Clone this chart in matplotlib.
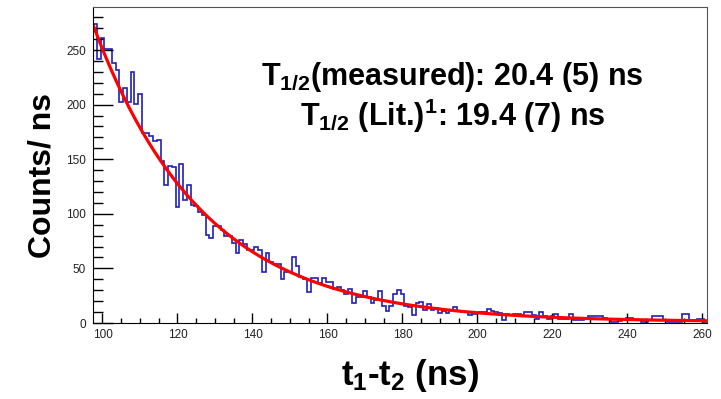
import numpy as np
import matplotlib.pyplot as plt

plt.rcParams['font.family'] = ['Liberation Sans', 'DejaVu Sans']
plt.rcParams['mathtext.fontset'] = 'custom'
plt.rcParams['mathtext.rm'] = 'Liberation Sans:bold'
plt.rcParams['mathtext.it'] = 'Liberation Sans:bold'
plt.rcParams['mathtext.bf'] = 'Liberation Sans:bold'

# histogram: 1 ns bins, first bin starts at 97.5 ns
bin_start = 97.5
bin_width = 1.0
counts = [274, 242, 261, 251, 251, 238, 232, 202, 215, 202, 230, 201, 210, 174, 174, 171, 167, 168, 148,
          126, 144, 143, 106, 146, 113, 126, 108, 107, 102, 99, 81, 78, 89, 89, 85, 80, 80, 73, 64,
          76, 72, 67, 67, 70,
          67, 47, 64, 56, 54, 54, 40, 47, 47, 60, 52, 42, 40, 28, 41, 41, 37, 41, 38, 38, 31, 33,
          30, 27, 31, 18, 24, 24, 29, 24, 18, 21, 29, 16, 11, 16, 27, 30, 27, 16, 15, 7, 18, 19, 12, 17,
          12, 14, 9, 11, 9,
          12, 15, 11, 10, 10, 7, 8, 9, 10, 10, 13, 11, 10, 9, 3, 8, 7, 8, 8, 7, 10, 10, 7, 4, 10, 6, 4,
          6, 8, 4, 4, 4, 8, 3, 3,
          3, 4, 6, 6, 6, 6, 5, 4, 1, 1, 2, 4, 5, 5, 3, 3, 1, 1, 3, 6, 6, 6, 3, 1, 1, 1, 1, 8, 8, 2, 3, 4, 4, 0]

# exponential fit shown in red
fit_amp = 272.0       # counts at t0
fit_t0 = 97.5
fit_halflife = 20.4   # ns
fit_bkg = 1.0

xticks = [100, 120, 140, 160, 180, 200, 220, 240, 260]
yticks = [0, 50, 100, 150, 200, 250]

edges = bin_start + bin_width * np.arange(len(counts) + 1)
t = np.linspace(fit_t0, 261, 300)
fit = fit_amp * np.exp(-np.log(2) * (t - fit_t0) / fit_halflife) + fit_bkg

fig = plt.figure(figsize=(7.21, 3.99), dpi=100)
ax = fig.add_axes([93/721, 76/399, 614/721, 316/399])

ax.stairs(counts, edges, color='#2020b8', lw=1.2, baseline=0)
ax.plot(t, fit, color='red', lw=2.3)

ax.set_xlim(97.47, 261.2)
ax.set_ylim(0, 289.4)
ax.set_xticks(xticks)
ax.set_yticks(yticks)
ax.set_xticks(np.arange(100, 261, 5), minor=True)
ax.set_yticks(np.arange(0, 290, 10), minor=True)
ax.tick_params(axis='y', which='major', direction='in', length=14.4, width=1, pad=5)
ax.tick_params(axis='y', which='minor', direction='in', length=7.2, width=1)
ax.tick_params(axis='x', which='major', direction='in', length=7.2, width=1, pad=4)
ax.tick_params(axis='x', which='minor', direction='in', length=3.6, width=1)
ax.tick_params(labelsize=8.5, labelcolor='#222222')
for s in ['right', 'top']:
    ax.spines[s].set_color('#555555')

fig.text(43/721, 1 - 176/399, 'Counts/ ns', rotation=90, ha='center', va='center',
         fontsize=23, fontweight='bold')
fig.text(410/721, 1 - 385/399, 't$_1$-t$_2$ (ns)', ha='center', va='baseline',
         fontsize=25, fontweight='bold')

fig.text(452/721, 1 - 85/399, 'T$_{1/2}$(measured): 20.4 (5) ns', ha='center', va='baseline',
         fontsize=22, fontweight='bold')
fig.text(453/721, 1 - 126/399, 'T$_{1/2}$ (Lit.)$^{1}$: 19.4 (7) ns', ha='center', va='baseline',
         fontsize=22, fontweight='bold')

fig.savefig('out.png', dpi=100)
